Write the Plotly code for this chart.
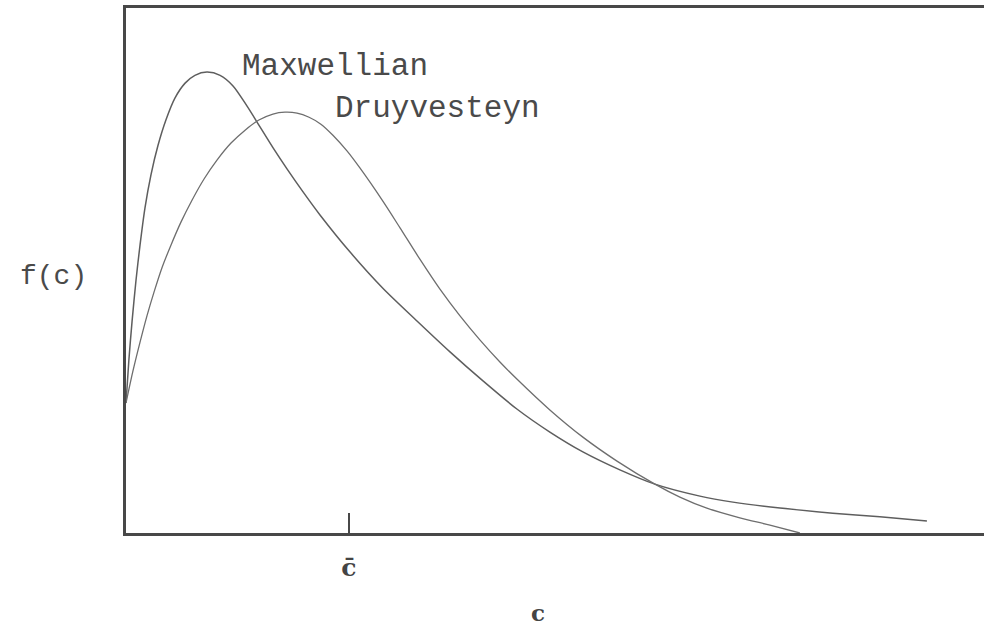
import plotly.graph_objects as go

# speed in units of the mean speed c-bar, distribution normalised to the Maxwellian peak
maxwell_c = [0.0, 0.013, 0.027, 0.045, 0.063, 0.085, 0.112, 0.143, 0.179, 0.220,
             0.265, 0.309, 0.363, 0.422, 0.480, 0.543, 0.601, 0.659, 0.722, 0.794,
             0.870, 1.004, 1.152, 1.305, 1.453, 1.601, 1.753, 1.901, 2.049, 2.215,
             2.372, 2.574, 2.722, 2.933, 3.170, 3.381, 3.592]
maxwell_f = [0.282, 0.376, 0.458, 0.549, 0.625, 0.705, 0.777, 0.840, 0.896, 0.944,
             0.976, 0.993, 1.000, 0.993, 0.970, 0.926, 0.881, 0.836, 0.790, 0.740,
             0.690, 0.610, 0.531, 0.460, 0.393, 0.330, 0.269, 0.219, 0.176, 0.137,
             0.106, 0.080, 0.067, 0.054, 0.043, 0.035, 0.026]

druy_c = [0.0, 0.031, 0.063, 0.094, 0.126, 0.161, 0.202, 0.247, 0.296, 0.350,
          0.408, 0.471, 0.534, 0.596, 0.659, 0.713, 0.767, 0.821, 0.874, 0.928,
          0.991, 1.049, 1.152, 1.229, 1.318, 1.408, 1.498, 1.587, 1.677, 1.753,
          1.901, 2.049, 2.202, 2.372, 2.484, 2.605, 2.753, 2.888, 3.022]
druy_f = [0.282, 0.351, 0.414, 0.471, 0.523, 0.575, 0.625, 0.675, 0.722, 0.768,
          0.809, 0.846, 0.874, 0.896, 0.909, 0.913, 0.911, 0.902, 0.887, 0.863,
          0.829, 0.792, 0.720, 0.662, 0.594, 0.529, 0.471, 0.419, 0.371, 0.334,
          0.267, 0.208, 0.156, 0.106, 0.078, 0.054, 0.033, 0.017, 0.0]

c_mean = 1.0
tick_labels = ["c\u0304"]

curve_labels = ["Maxwellian", "Druyvesteyn"]
label_pos_c = [0.511, 0.928]
label_pos_f = [1.013, 0.922]

ink = "#5e5e5e"
frame_ink = "#484848"
text_ink = "#4a4a4a"
type_font = "Liberation Mono"

fig = go.Figure()
fig.add_trace(go.Scatter(x=maxwell_c, y=maxwell_f, mode="lines",
                         line=dict(color=ink, width=1.5, shape="spline", smoothing=0.8),
                         name=curve_labels[0], hoverinfo="skip"))
fig.add_trace(go.Scatter(x=druy_c, y=druy_f, mode="lines",
                         line=dict(color="#6e6e6e", width=1.3, shape="spline", smoothing=0.8),
                         name=curve_labels[1], hoverinfo="skip"))

for text, cx, fy in zip(curve_labels, label_pos_c, label_pos_f):
    fig.add_annotation(x=cx, y=fy, text=text, showarrow=False,
                       xanchor="left", yanchor="middle",
                       font=dict(family=type_font, size=31, color=text_ink))

# axis names set as free text: y name horizontal, x name well below the axis
fig.add_annotation(xref="paper", yref="paper", x=-0.085, y=0.488,
                   text="f(c)", showarrow=False, xanchor="center", yanchor="middle",
                   font=dict(family=type_font, size=28, color=text_ink))
fig.add_annotation(xref="paper", yref="paper", x=0.480, y=-0.181,
                   text="c", showarrow=False, xanchor="center", yanchor="bottom",
                   font=dict(family="DejaVu Serif", size=23, color="#444444", weight="bold"))

fig.update_xaxes(range=[0, 3.848], showgrid=False, zeroline=False, automargin=False,
                 showline=True, linecolor=frame_ink, linewidth=3, mirror=True,
                 tickmode="array", tickvals=[c_mean], ticktext=tick_labels,
                 ticks="inside", ticklen=20, tickwidth=2, tickcolor=frame_ink,
                 ticklabelstandoff=10,
                 tickfont=dict(family="DejaVu Serif", size=25, color="#444444", weight="bold"))
fig.update_yaxes(range=[0, 1.139], showgrid=False, zeroline=False, automargin=False,
                 showline=True, linecolor=frame_ink, linewidth=3,
                 showticklabels=False, ticks="")

fig.update_layout(width=984, height=630,
                  margin=dict(l=126, r=0, t=8, b=97),
                  paper_bgcolor="white", plot_bgcolor="white",
                  showlegend=False)

fig.write_html("out.html")
